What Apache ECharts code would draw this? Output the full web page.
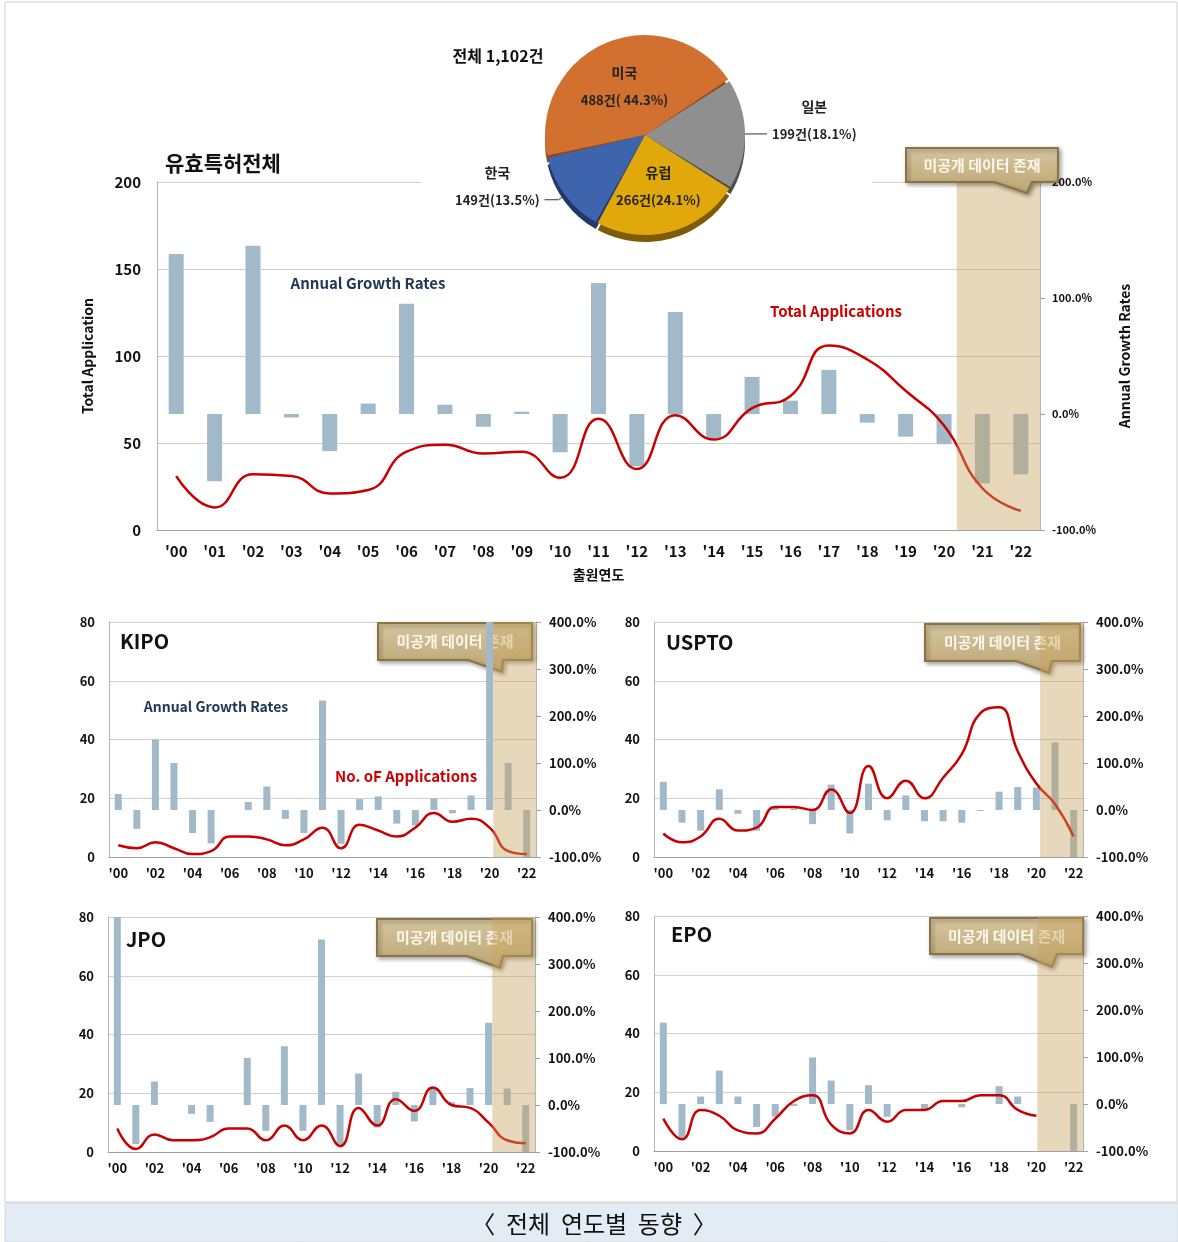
<!DOCTYPE html>
<html>
<head>
<meta charset="utf-8">
<title>전체 연도별 동향</title>
<script src="https://cdn.jsdelivr.net/npm/echarts@6/dist/echarts.min.js"></script>
<style>
html,body{margin:0;padding:0;background:#fff;}
#chart{width:1178px;height:1242px;}
</style>
</head>
<body>
<div id="chart"></div>
<script>
// ---- data ----
var years = ["'00","'01","'02","'03","'04","'05","'06","'07","'08","'09","'10","'11",
             "'12","'13","'14","'15","'16","'17","'18","'19","'20","'21","'22"];

// 유효특허전체
var totalApps   = [31,13,32,31,21,23,45,49,44,45,30,64,35,66,52,70,77,106,98,80,60,24,11];
var totalGrowth = [138,-58,145,-3,-32,9,95,8,-11,2,-33,113,-45,88,-21,32,11.5,38,-7.5,-19.5,-26,-60,-52];

// KIPO
var kipoApps   = [4,3,5,3,1,2,7,7,6,4,6,10,3,11,9,7,10,15,12,13,10,2,1];
var kipoGrowth = [34,-40,150,100,-49,-71,null,17,50,-19,-49,233,-72,23,29,-29,-33,25,-7,31,400,100,-100];

// USPTO
var usptoApps   = [8,5,7,13,9,10,17,17,16,23,15,31,20,26,20,27,35,49,51,36,25,18,7];
var usptoGrowth = [60,-27,-44,44,-8,-44,6,3,-30,54,-50,56,-22,31,-24,-24,-27,-2,39,49,48,144,-100];

// JPO
var jpoApps   = [8,1,6,4,4,5,8,8,4,9,4,9,2,15,9,18,14,22,16,15,10,4,3];
var jpoGrowth = [400,-83,50,null,-19,-36,null,100,-55,125,-55,352,-86,67,-48,28,-35,37,6,36,175,35,-100];

// EPO
var epoApps   = [11,4,14,12,7,6,11,17,19,9,6,14,10,14,14,17,17,19,19,14,12,null,null];
var epoGrowth = [173,-73,16,71,16,-49,-27,-4,99,50,-56,40,-27,null,-12,null,-7,null,38,16,null,null,-100];

// 국가별 점유
var regions      = ['미국','일본','유럽','한국'];
var regionCounts = [488,199,266,149];
var regionShares = [44.3,18.1,24.1,13.5];

// ---- style ----
var FONT = '"Noto Sans CJK KR", "Noto Sans", sans-serif';
var BAR = '#a2b9ca';
var RED = '#c80000';
var SHADE = 'rgba(200,163,92,0.42)';
var PIE_COLORS = ['#d2702f','#8f8f8f','#e0a80a','#3f64ae'];
var PIE_DARK = ['#8a4a1c','#4d4d4d','#7d5c05','#22386a'];

var grids = [], xAxes = [], yAxes = [], series = [];

function addPanel(cfg){
  var gi = grids.length;
  grids.push(cfg.grid);
  xAxes.push({
    type:'category', gridIndex:gi, data:years,
    axisLine:{onZero:false, lineStyle:{color:'#a0a0a0'}},
    axisTick:{lineStyle:{color:'#a0a0a0'}, length:5},
    axisLabel:{interval:cfg.labelEvery, color:'#111', fontWeight:'bold', fontSize:cfg.fs, fontFamily:FONT, margin:cfg.xMargin},
    name:cfg.xName || '', nameLocation:'middle', nameGap:38,
    nameTextStyle:{color:'#111', fontWeight:'bold', fontSize:14, fontFamily:FONT}
  });
  // hidden axis for the shaded band
  xAxes.push({type:'value', gridIndex:gi, min:-0.5, max:22.5, show:false});
  yAxes.push({
    type:'value', gridIndex:gi, position:'left', min:0, max:cfg.yMax, interval:cfg.yStep,
    axisLine:{show:true, onZero:false, lineStyle:{color:'#b5b5b5'}}, axisTick:{show:false},
    splitLine:{lineStyle:{color:'#cfcfcf'}},
    axisLabel:{color:'#111', fontWeight:'bold', fontSize:cfg.lfs, fontFamily:FONT, margin:cfg.lMargin},
    name:cfg.lName || '', nameLocation:'middle', nameGap:62, nameRotate:90,
    nameTextStyle:{color:'#111', fontWeight:'bold', fontSize:14, fontFamily:FONT}
  });
  yAxes.push({
    type:'value', gridIndex:gi, position:'right', min:-100, max:cfg.rMax, interval:100,
    axisLine:{show:true, onZero:false, lineStyle:{color:'#b5b5b5'}}, axisTick:{show:true, length:5, lineStyle:{color:'#a0a0a0'}},
    splitLine:{show:false},
    axisLabel:{formatter:function(v){ return v.toFixed(1) + '%'; }, color:'#111', fontWeight:'bold', fontSize:cfg.rfs, fontFamily:FONT, margin:cfg.rMargin},
    name:cfg.rName || '', nameLocation:'middle', nameGap:78, nameRotate:90,
    nameTextStyle:{color:'#111', fontWeight:'bold', fontSize:14, fontFamily:FONT}
  });
  series.push({type:'bar', xAxisIndex:2*gi, yAxisIndex:2*gi+1, data:cfg.growth, barWidth:cfg.barW,
               itemStyle:{color:BAR}, silent:true, z:2});
  series.push({type:'line', xAxisIndex:2*gi, yAxisIndex:2*gi, data:cfg.apps, smooth:0.5, symbol:'none',
               lineStyle:{color:RED, width:cfg.lw}, silent:true, z:3});
  series.push({type:'line', xAxisIndex:2*gi+1, yAxisIndex:2*gi, data:[], z:5,
               markArea:{silent:true, z:5, itemStyle:{color:SHADE},
                         data:[[{xAxis:cfg.shadeFrom},{xAxis:22.5}]]}});
}

// main
addPanel({grid:{left:157, top:182, width:883, height:348}, apps:totalApps, growth:totalGrowth,
  yMax:200, yStep:50, rMax:200, labelEvery:0, fs:15, xMargin:14, lfs:15, lMargin:16, rfs:11, rMargin:12,
  barW:15, lw:2.5, shadeFrom:20.33, xName:'출원연도', lName:'Total Application', rName:'Annual Growth Rates'});
// small ones
var smallBase = {yMax:80, yStep:20, rMax:400, labelEvery:1, fs:13, xMargin:10, lfs:13, lMargin:14, rfs:13, rMargin:13, barW:7, lw:2.5};
function small(extra){ var o = {}; for (var k in smallBase) o[k] = smallBase[k]; for (var j in extra) o[j] = extra[j]; return o; }
addPanel(small({grid:{left:109, top:622, width:427, height:235}, apps:kipoApps, growth:kipoGrowth, shadeFrom:20.2}));
addPanel(small({grid:{left:654, top:622, width:429, height:235}, apps:usptoApps, growth:usptoGrowth, shadeFrom:20.2}));
addPanel(small({grid:{left:108, top:917, width:427, height:235}, apps:jpoApps, growth:jpoGrowth, shadeFrom:20.2}));
addPanel(small({grid:{left:654, top:916, width:429, height:235}, apps:epoApps, growth:epoGrowth, shadeFrom:20.05}));

// pie (dark copy underneath gives the 3D rim)
series.push({type:'pie', center:[645,142], radius:100, startAngle:192.5, padAngle:1.2, silent:true, z:1,
  label:{show:false}, labelLine:{show:false},
  data:regions.map(function(n, i){ return {name:n, value:regionCounts[i], itemStyle:{color:PIE_DARK[i]}}; })});
series.push({type:'pie', center:[645,135], radius:100, startAngle:192.5, padAngle:1.2, silent:true, z:2,
  data:regions.map(function(n, i){
    return {name:n, value:regionCounts[i], itemStyle:{color:PIE_COLORS[i]},
            label:{position:(i === 0 || i === 2) ? 'inside' : 'outside'}};
  }),
  label:{
    formatter:function(p){
      var i = p.dataIndex;
      var t = '{n|' + p.name + '}\n{v|' + regionCounts[i] + '건(' + (i === 0 ? ' ' : '') + regionShares[i].toFixed(1) + '%)}';
      if (i === 1 || i === 3) t += '\n{e| }';
      return t;
    },
    rich:{
      n:{fontSize:14, fontWeight:'bold', fontFamily:FONT, color:'#222', lineHeight:27, align:'center'},
      v:{fontSize:13, fontWeight:'bold', fontFamily:FONT, color:'#222', lineHeight:27, align:'center'},
      e:{fontSize:13, lineHeight:27}
    }
  },
  labelLine:{length:8, length2:14, lineStyle:{color:'#333', width:1}}
});

// callout box "미공개 데이터 존재"
function callout(box, base, tip, front){
  var x = box[0], y = box[1], w = box[2], h = box[3];
  var z = front ? 100 : 1;
  return {type:'group', children:[
    {type:'polygon', z:z,
     shape:{points:[[x,y],[x+w,y],[x+w,y+h],[base[1],y+h],[tip[0],tip[1]],[base[0],y+h],[x,y+h]]},
     style:{fill:new echarts.graphic.LinearGradient(0,0,0,1,[{offset:0,color:'#d6c6a0'},{offset:1,color:'#bba572'}]),
            stroke:'#8a7442', lineWidth:2, shadowBlur:4, shadowColor:'rgba(0,0,0,0.35)', shadowOffsetX:2, shadowOffsetY:2}},
    {type:'text', z:z+1, x:x+w/2, y:y+h/2,
     style:{text:'미공개 데이터 존재', fill:'#fbf7ec', fontSize:15, fontWeight:'bold', fontFamily:FONT,
            textAlign:'center', textVerticalAlign:'middle'}}
  ]};
}

function label(x, y, text, size, color, align){
  return {type:'text', z:50, x:x, y:y,
    style:{text:text, fill:color || '#111', fontSize:size, fontWeight:'bold', fontFamily:FONT,
           textAlign:align || 'center', textVerticalAlign:'middle'}};
}

var graphics = [
  {type:'rect', z:0, shape:{x:5, y:2, width:1172, height:1200}, style:{fill:'none', stroke:'#cfcfcf', lineWidth:1}},
  // gap in the 200 grid line behind the pie
  {type:'rect', z:1, shape:{x:421, y:178, width:451, height:8}, style:{fill:'#fff'}},
  label(165, 163, '유효특허전체', 21, '#111', 'left'),
  label(498, 56, '전체 1,102건', 16, '#111'),
  label(368, 283, 'Annual Growth Rates', 15, '#1f3654'),
  label(836, 311, 'Total Applications', 15, '#cc0000'),
  label(120, 641, 'KIPO', 20, '#111', 'left'),
  label(216, 707, 'Annual Growth Rates', 14, '#1f3654'),
  label(406, 776, 'No. oF Applications', 15, '#cc0000'),
  label(666, 642, 'USPTO', 20, '#111', 'left'),
  label(126, 939, 'JPO', 20, '#111', 'left'),
  label(671, 934, 'EPO', 20, '#111', 'left'),
  callout([906,148,152,34], [994,1032], [1027,193], true),
  callout([378,623,154,37], [468,503], [502,672], false),
  callout([925,624,155,37], [1016,1052], [1049,673], false),
  callout([377,919,155,37], [467,503], [500,968], false),
  callout([930,918,153,36], [1020,1057], [1052,967], false),
  // caption band
  {type:'rect', z:0, shape:{x:5, y:1203, width:1173, height:39}, style:{fill:'#e3ebf5', stroke:'#d4d8dd', lineWidth:1}},
  {type:'text', z:2, x:594, y:1224,
   style:{text:'〈  전체  연도별  동향  〉', fill:'#111', fontSize:24, fontFamily:FONT, textAlign:'center', textVerticalAlign:'middle'}}
];

var chart = echarts.init(document.getElementById('chart'), null, {renderer:'canvas'});
chart.setOption({
  backgroundColor:'#fff',
  animation:false,
  grid:grids,
  xAxis:xAxes,
  yAxis:yAxes,
  series:series,
  graphic:graphics
});

window.addEventListener('resize', function(){ chart.resize(); });
</script>
</body>
</html>
